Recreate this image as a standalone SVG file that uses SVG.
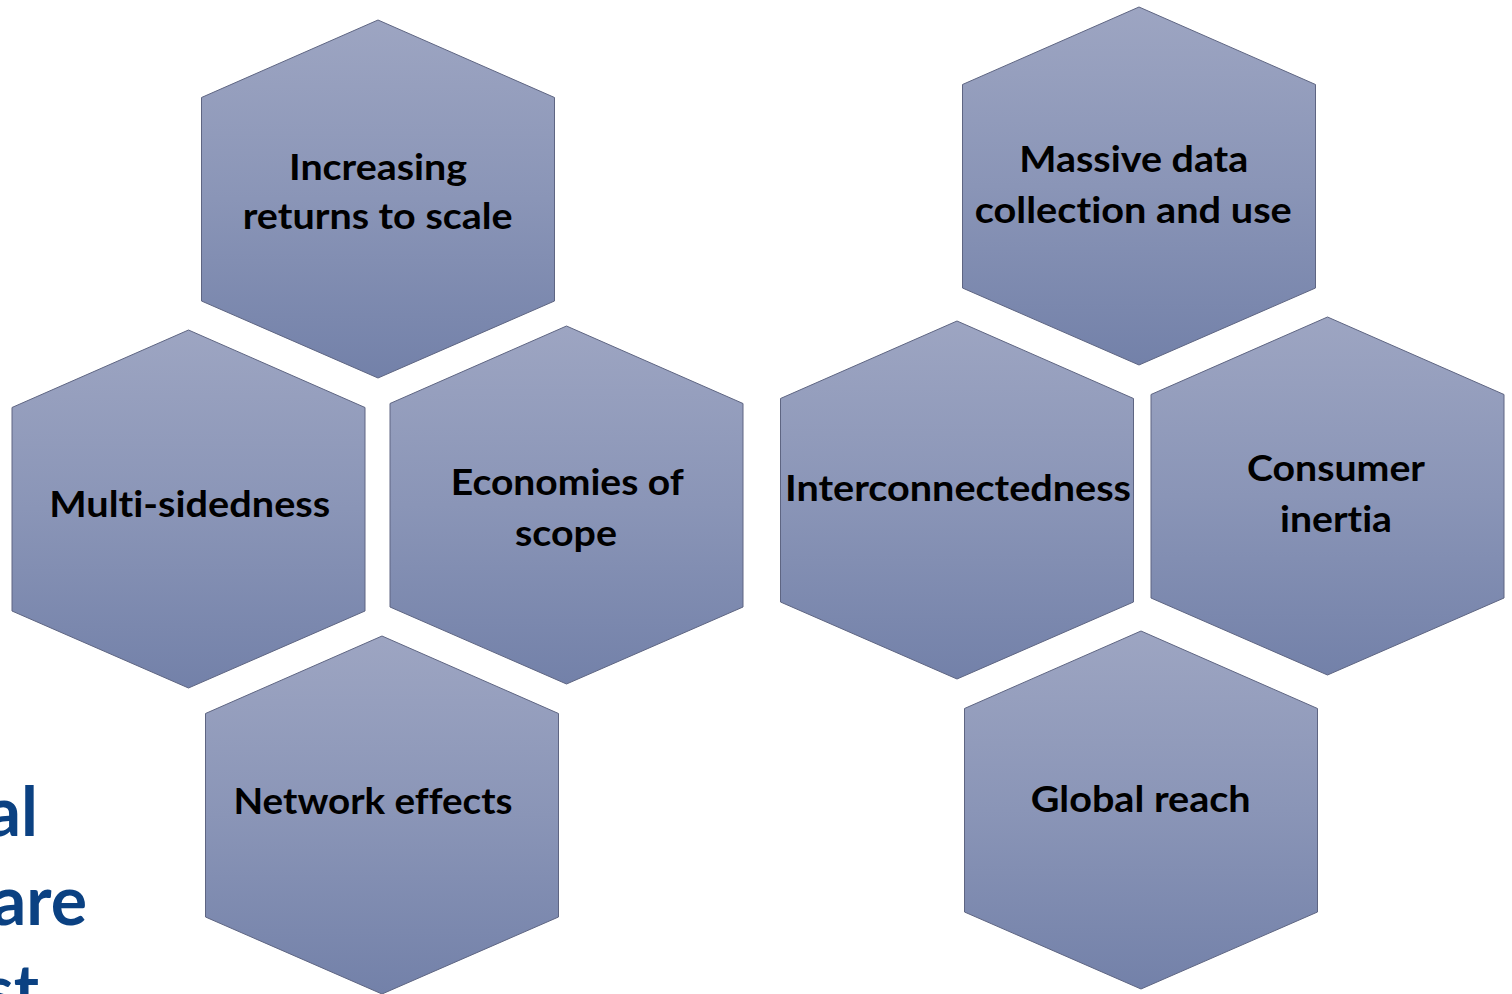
<svg xmlns="http://www.w3.org/2000/svg" xmlns:xlink="http://www.w3.org/1999/xlink" width="1512" height="994" viewBox="0 0 1512 994">
  <defs>
    <linearGradient id="hexFill" x1="0" y1="0" x2="0" y2="1">
      <stop offset="0" stop-color="#9DA5C2"/>
      <stop offset="0.5" stop-color="#8A95B7"/>
      <stop offset="1" stop-color="#7381A9"/>
    </linearGradient>
    <path id="hex" d="M0,77.5 L176.5,0 L353,77.5 L353,281 L176.5,358 L0,281 Z"/>
  </defs>
  <style>
    .hex { fill: url(#hexFill); stroke: #5E6582; stroke-width: 1; }
    .lbl { font-family: Lato, "Open Sans", "Liberation Sans", sans-serif; font-weight: 700; font-size: 37px; fill: #000000; text-anchor: middle; font-variant-ligatures: none; font-feature-settings: "liga" 0, "clig" 0, "dlig" 0, "calt" 0; }
    .side { font-family: Lato, "Open Sans", "Liberation Sans", sans-serif; font-weight: 700; font-size: 68px; fill: #0B4182; text-anchor: end; font-variant-ligatures: none; font-feature-settings: "liga" 0, "clig" 0, "dlig" 0, "calt" 0; }
  </style>
  <rect width="1512" height="994" fill="#FFFFFF"/>

  <g id="side-text">
    <text class="side" x="38" y="836">al</text>
    <text class="side" x="87" y="925">are</text>
    <text class="side" x="39" y="1014">st</text>
  </g>

  <g id="connectors"></g>

  <g id="node-increasing-returns">
    <use xlink:href="#hex" class="hex" transform="translate(201.5,20)"/>
    <text class="lbl" x="378" y="180" textLength="178" lengthAdjust="spacingAndGlyphs">Increasing</text>
    <text class="lbl" x="377.7" y="229" textLength="270" lengthAdjust="spacingAndGlyphs">returns to scale</text>
  </g>

  <g id="node-multi-sidedness">
    <use xlink:href="#hex" class="hex" transform="translate(12,330)"/>
    <text class="lbl" x="189.7" y="517" textLength="281" lengthAdjust="spacingAndGlyphs">Multi-sidedness</text>
  </g>

  <g id="node-economies-of-scope">
    <use xlink:href="#hex" class="hex" transform="translate(390,326)"/>
    <text class="lbl" x="567.3" y="495" textLength="233" lengthAdjust="spacingAndGlyphs">Economies of</text>
    <text class="lbl" x="566" y="546" textLength="102" lengthAdjust="spacingAndGlyphs">scope</text>
  </g>

  <g id="node-network-effects">
    <use xlink:href="#hex" class="hex" transform="translate(205.5,636)"/>
    <text class="lbl" x="373" y="814" textLength="279" lengthAdjust="spacingAndGlyphs">Network effects</text>
  </g>

  <g id="node-massive-data">
    <use xlink:href="#hex" class="hex" transform="translate(962.5,7)"/>
    <text class="lbl" x="1133.8" y="172" textLength="229" lengthAdjust="spacingAndGlyphs">Massive data</text>
    <text class="lbl" x="1133.3" y="223" textLength="317" lengthAdjust="spacingAndGlyphs">collection and use</text>
  </g>

  <g id="node-interconnectedness">
    <use xlink:href="#hex" class="hex" transform="translate(780.5,321)"/>
    <text class="lbl" x="958" y="501" textLength="346" lengthAdjust="spacingAndGlyphs">Interconnectedness</text>
  </g>

  <g id="node-consumer-inertia">
    <use xlink:href="#hex" class="hex" transform="translate(1151,317)"/>
    <text class="lbl" x="1336" y="481" textLength="178" lengthAdjust="spacingAndGlyphs">Consumer</text>
    <text class="lbl" x="1336" y="532" textLength="112" lengthAdjust="spacingAndGlyphs">inertia</text>
  </g>

  <g id="node-global-reach">
    <use xlink:href="#hex" class="hex" transform="translate(964.5,631)"/>
    <text class="lbl" x="1140.7" y="812" textLength="220" lengthAdjust="spacingAndGlyphs">Global reach</text>
  </g>
</svg>
